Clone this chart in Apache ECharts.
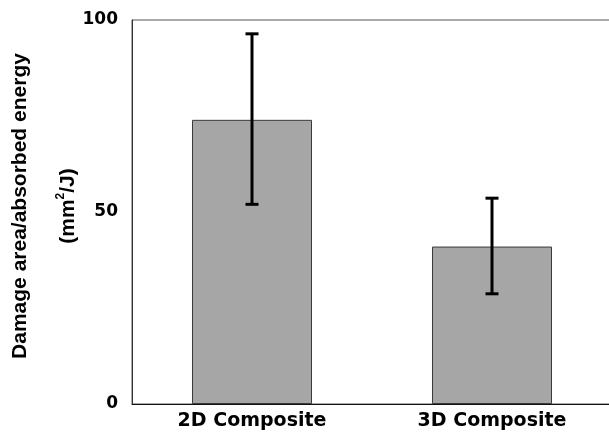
<!DOCTYPE html>
<html>
<head>
<meta charset="utf-8">
<script src="https://cdn.jsdelivr.net/npm/echarts@6/dist/echarts.min.js"></script>
<style>
    html, body { margin: 0; padding: 0; background: #fff; }
    #main { width: 609px; height: 432px; }
</style>
</head>
<body>
<div id="main"></div>
<script>
    // data
    var categories = ['2D Composite', '3D Composite'];
    var meanValues = [74, 41];
    var errLow = [52, 28.7];
    var errHigh = [96.4, 53.6];
    var yTicks = [0, 50, 100];

    var el = document.getElementById('main');
    var myChart = echarts.init(el);

    var errData = [];
    for (var i = 0; i < categories.length; i++) {
        errData.push([i, errLow[i], errHigh[i]]);
    }

    var option = {
        animation: false,
        grid: {
            left: 132,
            top: 20,
            bottom: 28,
            width: 480,
            outerBoundsMode: 'none',
            containLabel: false,
            show: true,
            borderColor: '#555',
            borderWidth: 1
        },
        xAxis: {
            type: 'category',
            data: categories,
            axisLine: { lineStyle: { color: '#111', width: 1 } },
            axisTick: { show: false },
            axisLabel: {
                color: '#000',
                fontFamily: 'DejaVu Sans',
                fontWeight: 'bold',
                fontSize: 19,
                margin: 8
            }
        },
        yAxis: {
            type: 'value',
            min: yTicks[0],
            max: yTicks[yTicks.length - 1],
            interval: 50,
            splitLine: { show: false },
            axisTick: { show: false },
            axisLine: { show: true, lineStyle: { color: '#333', width: 1 } },
            axisLabel: {
                color: '#000',
                fontFamily: 'DejaVu Sans',
                fontWeight: 'bold',
                fontSize: 17,
                margin: 14
            },
            name: '{a|Damage area/absorbed energy}\n{a|(mm}{s|2}{a|/J)}',
            nameLocation: 'middle',
            nameRotate: 90,
            nameGap: 40,
            nameMoveOverlap: false,
            nameTextStyle: {
                padding: [0, 0, 0, 12],
                rich: {
                    a: {
                        fontFamily: 'Liberation Sans',
                        fontWeight: 'bold',
                        fontSize: 21,
                        color: '#000',
                        lineHeight: 48
                    },
                    s: {
                        fontFamily: 'Liberation Sans',
                        fontWeight: 'bold',
                        fontSize: 12,
                        color: '#000',
                        lineHeight: 12,
                        padding: [0, 0, 14, 0]
                    }
                }
            }
        },
        series: [
            {
                type: 'bar',
                data: meanValues,
                barWidth: 120,
                itemStyle: {
                    color: '#a6a6a6',
                    borderColor: '#3a3a3a',
                    borderWidth: 1
                }
            },
            {
                type: 'custom',
                data: errData,
                z: 10,
                renderItem: function (params, api) {
                    var x = api.value(0);
                    var lo = api.coord([x, api.value(1)]);
                    var hi = api.coord([x, api.value(2)]);
                    var hw = 6.5;
                    var st = { stroke: '#000', lineWidth: 3 };
                    return {
                        type: 'group',
                        children: [
                            { type: 'line', shape: { x1: hi[0], y1: hi[1], x2: lo[0], y2: lo[1] }, style: st },
                            { type: 'line', shape: { x1: hi[0] - hw, y1: hi[1], x2: hi[0] + hw, y2: hi[1] }, style: st },
                            { type: 'line', shape: { x1: lo[0] - hw, y1: lo[1], x2: lo[0] + hw, y2: lo[1] }, style: st }
                        ]
                    };
                }
            }
        ]
    };
    myChart.setOption(option);
</script>
</body>
</html>
